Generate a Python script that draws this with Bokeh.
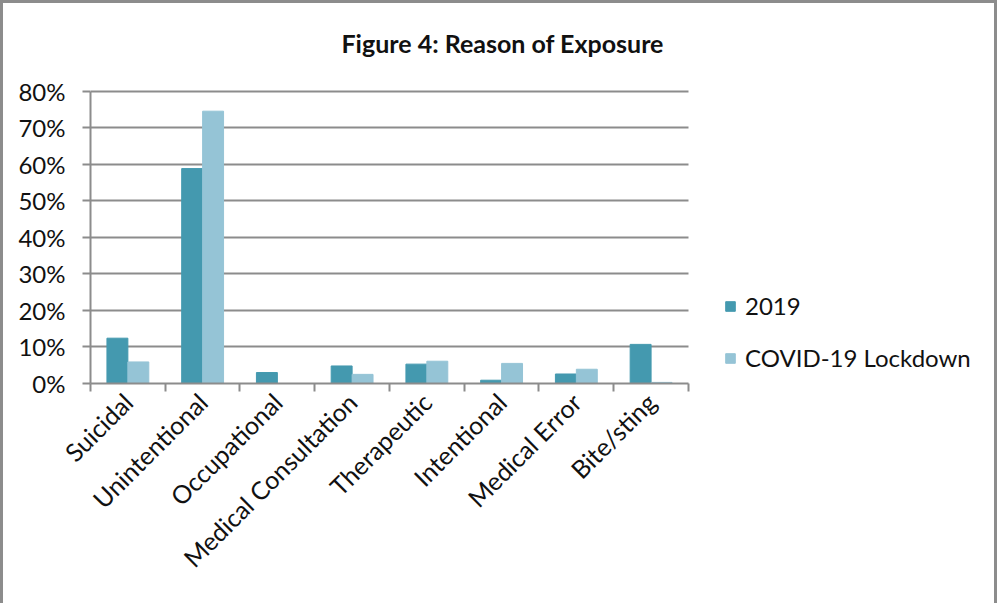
import math
from bokeh.plotting import figure
from bokeh.models import (ColumnDataSource, FixedTicker, NumeralTickFormatter, LinearAxis,
                          Legend, LegendItem, Range1d, Label)
from bokeh.embed import file_html
from bokeh.resources import INLINE

categories = ["Suicidal", "Unintentional", "Occupational", "Medical Consultation",
              "Therapeutic", "Intentional", "Medical Error", "Bite/sting"]
values_2019 = [0.124, 0.588, 0.030, 0.048, 0.053, 0.009, 0.026, 0.107]
values_covid = [0.059, 0.745, 0.0, 0.025, 0.061, 0.055, 0.039, 0.003]
series_names = ["2019", "COVID-19 Lockdown"]
y_ticks = [0.0, 0.1, 0.2, 0.3, 0.4, 0.5, 0.6, 0.7, 0.8]
title_text = "Figure 4: Reason of Exposure"

C1 = "#4499af"
C2 = "#95c4d6"
GRID = "#8c8c8c"
FONT = "Lato"
TXT = "#111111"

n = len(categories)
centers = [i + 0.5 for i in range(n)]
bounds = list(range(n + 1))
bw = 0.28
y_top = y_ticks[-1]

# layout (pixels)
W, H, BORDER = 997, 603, 3
ML, MR, MT, MB = 87, 5, 17, 223
frame_w = (W - 2 * BORDER) - ML - MR
frame_h = (H - BORDER) - MT - MB
plot_w, plot_h = 594, 290  # area used by the bars' axes
x_end = n * frame_w / plot_w
y_end = y_top * frame_h / plot_h

src = ColumnDataSource(dict(
    x1=[c - bw / 2 for c in centers], x2=[c + bw / 2 for c in centers],
    v1=values_2019, v2=values_covid))

p = figure(width=W, height=H, output_backend="svg", toolbar_location=None,
           x_range=Range1d(0, x_end), y_range=Range1d(0, y_end),
           min_border_left=ML, min_border_right=MR, min_border_top=MT, min_border_bottom=MB,
           x_axis_location=None, y_axis_location=None)
p.outline_line_color = None
p.background_fill_color = "white"
p.border_fill_color = "white"
p.styles = {"border-top": "3px solid #8c8c8c", "border-left": "3px solid #8c8c8c",
            "border-right": "3px solid #8c8c8c", "box-sizing": "border-box"}

r1 = p.vbar(x="x1", top="v1", width=bw, bottom=0, source=src, fill_color=C1,
            line_color=C1, line_width=1)
r2 = p.vbar(x="x2", top="v2", width=bw, bottom=0, source=src, fill_color=C2,
            line_color=C2, line_width=1)

# y axis
yax = LinearAxis(ticker=FixedTicker(ticks=y_ticks),
                 formatter=NumeralTickFormatter(format="0%"), bounds=(0, y_top))
yax.axis_line_color = GRID
yax.axis_line_width = 2
yax.major_tick_line_color = GRID
yax.major_tick_line_width = 2
yax.major_tick_in = 0
yax.major_tick_out = 8
yax.minor_tick_line_color = None
yax.major_label_text_font = FONT
yax.major_label_text_font_size = "24px"
yax.major_label_text_color = TXT
yax.major_label_standoff = 17
p.add_layout(yax, "left")

# x axis: labels at category centres, tick marks at category boundaries
xax = LinearAxis(ticker=FixedTicker(ticks=centers, minor_ticks=bounds),
                 major_label_overrides={c: name for c, name in zip(centers, categories)},
                 bounds=(0, n))
xax.axis_line_color = GRID
xax.axis_line_width = 2
xax.major_tick_line_color = None
xax.minor_tick_line_color = GRID
xax.minor_tick_line_width = 2
xax.minor_tick_in = 0
xax.minor_tick_out = 8
xax.major_label_orientation = math.pi / 4
xax.major_label_text_font = FONT
xax.major_label_text_font_size = "25px"
xax.major_label_text_color = TXT
xax.major_label_standoff = 6
p.add_layout(xax, "below")

p.xgrid.visible = False
p.ygrid.ticker = FixedTicker(ticks=y_ticks[1:])
p.ygrid.cross_bounds = (0, n)
p.ygrid.grid_line_color = GRID
p.ygrid.grid_line_width = 2

# chart title (inside the canvas, above the bar area)
p.add_layout(Label(x=5.515, y=0.932, text=title_text, text_align="center",
                   text_baseline="middle", text_font=FONT, text_font_style="bold",
                   text_font_size="25px", text_color=TXT))

legend = Legend(items=[LegendItem(label=series_names[0], renderers=[r1]),
                       LegendItem(label=series_names[1], renderers=[r2])],
                location=(634, 11), orientation="vertical")
legend.padding = 0
legend.margin = 0
legend.border_line_color = None
legend.background_fill_alpha = 0
legend.glyph_width = 12
legend.glyph_height = 12
legend.label_height = 24
legend.spacing = 23
legend.label_standoff = 9
legend.label_text_font = FONT
legend.label_text_font_size = "24px"
legend.label_text_color = TXT
p.add_layout(legend, "center")

open("out.html", "w").write(file_html(p, INLINE))
